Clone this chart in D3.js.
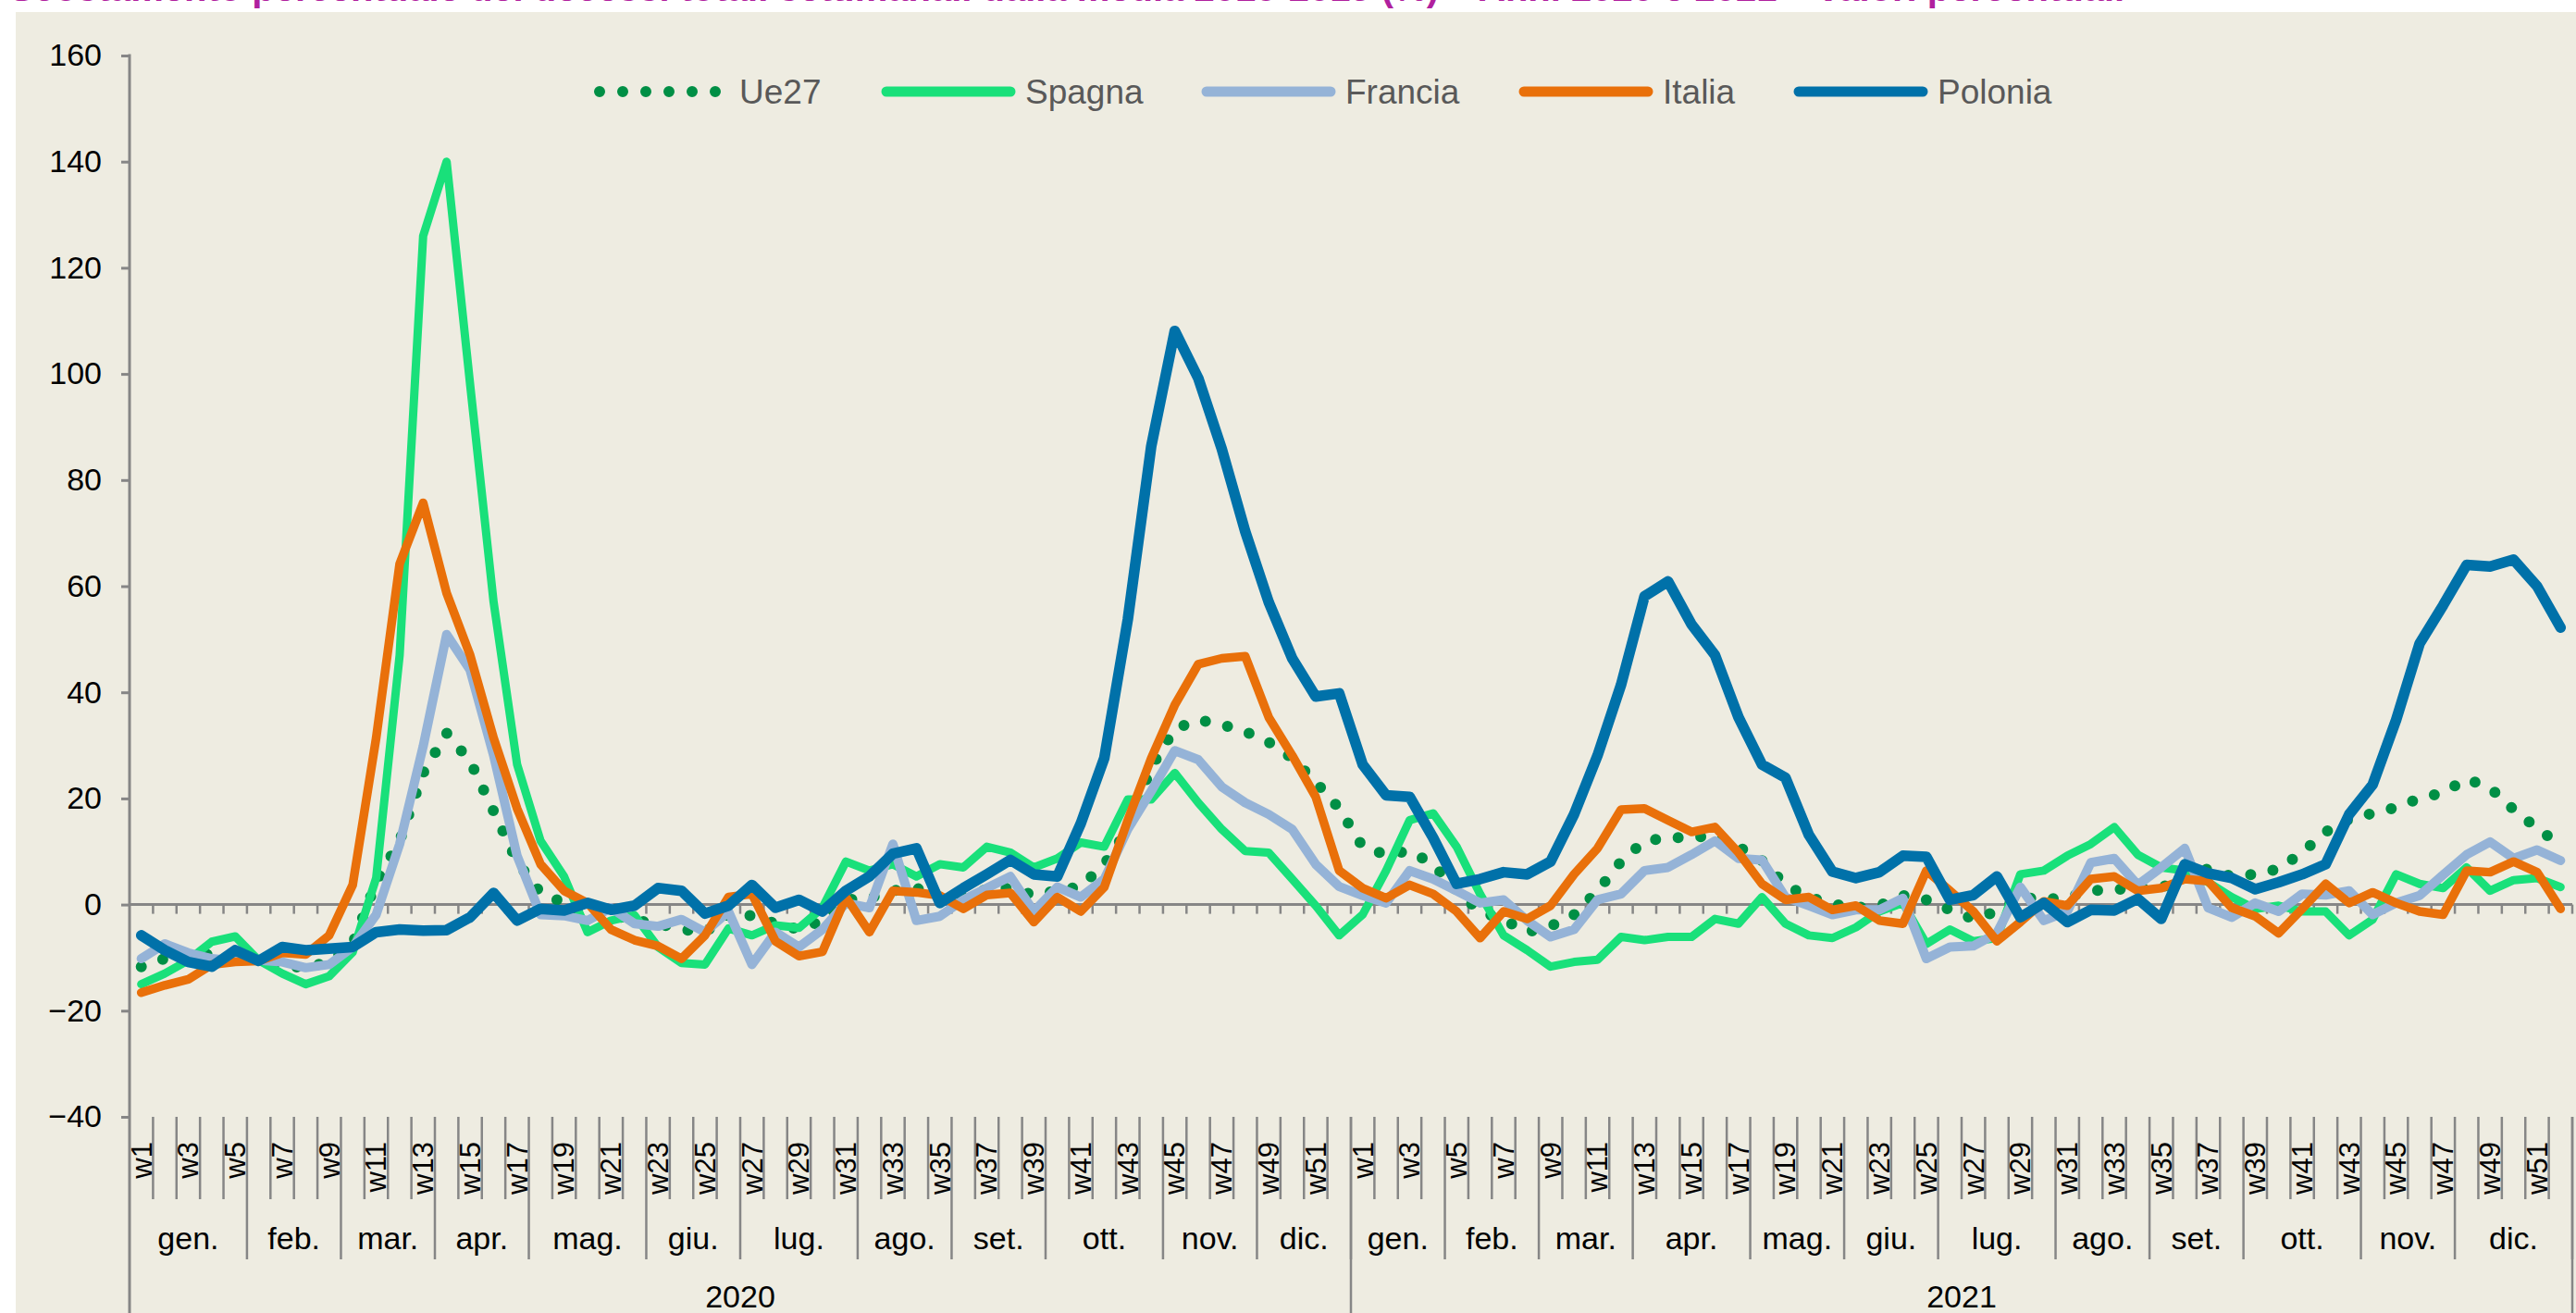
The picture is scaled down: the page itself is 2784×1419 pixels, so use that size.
<!DOCTYPE html>
<html>
<head>
<meta charset="utf-8">
<script src="https://cdn.jsdelivr.net/npm/d3@7"></script>
<style>
  html, body { margin: 0; padding: 0; background: #fff; }
  svg { display: block; font-family: "Liberation Sans", Arial, sans-serif; }
</style>
</head>
<body>
<div id="chart"></div>
<script>
const WIDTH = 2784;
const HEIGHT = 1419;

// categories
const years = ['2020', '2021'];
const monthNames = ['gen.', 'feb.', 'mar.', 'apr.', 'mag.', 'giu.', 'lug.', 'ago.', 'set.', 'ott.', 'nov.', 'dic.'];
const monthWeeks2020 = [5, 4, 4, 4, 5, 4, 5, 4, 4, 5, 4, 4];
const monthWeeks2021 = [4, 4, 4, 5, 4, 4, 5, 4, 4, 5, 4, 5];
const yTicks = [-40, -20, 0, 20, 40, 60, 80, 100, 120, 140, 160];

const seriesNames = ['Ue27', 'Spagna', 'Francia', 'Italia', 'Polonia'];

// values, % (w1..w52 2020, then w1..w52 2021)
const ue27 = [
  -11.7, -10.2, -9, -9.5, -10, -10.5, -11.5, -11.9, -10.8, -7.4, 4.2, 12, 24.8, 32.3, 27, 17.6, 8.1, 2.2, 0.3, -1.9,
  -1.9, -3, -3.6, -4.7, -5.2, -1.9, -2.1, -3.6, -4.7, -3, 0.9, 1.2, 2.6, 3.1, 1.4, 1.4, 2.9, 3.1, 1.8, 2.6,
  3.4, 7.6, 14.2, 25.9, 33.1, 34.8, 33.9, 32.6, 30.6, 27.6, 23.1, 18.1,
  10.9, 9.4, 10.1, 7.6, 2.6, -1.3, -2.8, -5.2, -4.1, -1.9, 2.6, 8.1, 12, 12.6, 12.6, 13.1, 10.9, 8.3, 3.7, 1.4,
  0.1, -0.6, -0.2, 1.7, 0.9, -1, -2.7, -1.3, 1.4, 0.9, 1.4, 2.6, 2.8, 3.1, 3.1, 5.7, 6.7, 5.3, 5.7, 6.7,
  9.8, 13.7, 16.1, 17.2, 18.3, 20, 21.1, 23.7, 22, 17.9, 14.4, 11.2
];
const spagna = [
  -15, -13, -10.5, -7, -6, -10.5, -13, -15, -13.5, -9, 5, 47, 126, 140, 98, 57, 26.4, 12, 5.3, -5.2,
  -3, -2, -8, -11, -11.3, -4.5, -5.8, -3.9, -4.4, -0.6, 8.1, 6.4, 7.6, 5.3, 7.6, 7, 10.9, 9.8, 7, 8.7,
  11.7, 10.9, 19.8, 19.8, 24.8, 19.2, 14.2, 10.1, 9.8, 4.8, -0.2, -5.8,
  -1.9, 6.4, 15.9, 17.2, 10.9, 2, -5.8, -8.6, -11.7, -10.8, -10.4, -6.1, -6.7, -6.1, -6.1, -2.7, -3.6, 1.4, -3.6, -5.8,
  -6.3, -4.3, -1.3, 0.3, -7.4, -4.7, -6.9, -6.3, 5.7, 6.4, 9.2, 11.4, 14.6, 9.4, 7, 6.4, 4.2, 1.4, -0.8, -0.2,
  -1.3, -1.3, -5.8, -2.8, 5.7, 3.9, 3.1, 7, 2.6, 4.6, 5, 3.3
];
const francia = [
  -10.2, -7.4, -9.1, -10.2, -10.6, -10.5, -10.8, -11.9, -11.3, -8, -1.9, 11.4, 29.8, 50.9, 44.2, 28.1, 9.2, -1.9, -2.1, -3,
  -0.6, -3.6, -4.1, -2.8, -5.2, -1.3, -11.3, -5.2, -8, -4.7, 0.3, -0.6, 11.4, -3, -2.2, 0.9, 3.1, 5.3, -1.3, 3.3,
  1.4, 4.8, 14.2, 21.4, 29, 27.3, 22.2, 19.2, 17, 14.2, 7.6, 3.4,
  1.7, 0.3, 6.4, 4.8, 2.6, 0.3, 0.9, -3, -6.1, -4.7, 0.9, 2, 6.4, 7, 9.4, 12, 8.7, 8.4, 1.4, -0.2,
  -1.9, -1, -1, 1.2, -10.2, -8, -7.8, -5.4, 3.3, -3, -1.3, 7.9, 8.7, 3.7, 7, 10.6, -0.6, -2.4, 0.3, -1.3,
  2, 1.8, 2.6, -1.9, 0.3, 1.7, 5.6, 9.4, 11.8, 8.7, 10.3, 8.3
];
const italia = [
  -16.6, -15.2, -14.1, -11.3, -10.8, -10.6, -9.1, -9.4, -5.8, 3.7, 31.4, 64.2, 75.7, 58.7, 47, 31.4, 18.1, 7.6, 2.6, 0.3,
  -4.7, -6.7, -7.8, -10.2, -5.8, 1.4, 2, -6.9, -9.7, -8.9, 1.4, -5.2, 2.6, 2.3, 1.7, -0.8, 1.8, 2.2, -3.3, 1.4,
  -1.3, 3.3, 15.9, 27.6, 37.6, 45.3, 46.4, 46.8, 35.3, 28.1, 20.3, 6.4,
  3.1, 1.2, 3.7, 2, -1.3, -6.3, -1.3, -2.7, -0.2, 5.7, 10.6, 17.9, 18.1, 15.9, 13.7, 14.6, 9.8, 3.9, 0.9, 1.4,
  -1, -0.2, -3, -3.6, 6.4, 2.6, -1.3, -6.9, -3.3, 0.6, -0.2, 4.8, 5.3, 2.6, 3.1, 4.8, 4.4, -0.6, -2.2, -5.4,
  -0.8, 3.9, 0.3, 2.3, 0.3, -1.3, -1.9, 6.4, 6.1, 8.1, 6.1, -0.8
];
const polonia = [
  -5.8, -8.6, -10.8, -11.7, -8.6, -10.6, -8, -8.6, -8.3, -8, -5.2, -4.7, -4.9, -4.8, -2.4, 2.2, -3, -0.8, -1.1, 0.3,
  -1, -0.2, 3.1, 2.6, -1.7, -0.2, 3.7, -0.6, 0.9, -1.3, 2.6, 5.3, 9.6, 10.6, 0.3, 3.1, 5.7, 8.4, 5.7, 5.3,
  15.3, 27.6, 53.7, 86.4, 108.1, 99.2, 85.9, 70.3, 57, 46.4, 39.2, 39.8,
  26.4, 20.6, 20.3, 12.6, 3.9, 4.8, 6.1, 5.7, 8.1, 17, 28.1, 41.4, 58.1, 60.9, 52.8, 47, 35.3, 26.4, 23.9, 13.1,
  6.2, 5, 6.1, 9.2, 9, 0.9, 1.8, 5.3, -2.4, 0.3, -3.3, -1, -1.1, 1.1, -2.7, 7.6, 5.9, 5, 2.9, 4.2,
  5.7, 7.6, 17, 22.6, 34.8, 49.2, 56.4, 64, 63.7, 65, 60, 52.2
];

const COLOR = {
  Ue27: '#008F45',
  Spagna: '#19E07A',
  Francia: '#95B3D7',
  Italia: '#E9700A',
  Polonia: '#0071A9',
};
const WIDTHS = {Ue27: 12, Spagna: 9, Francia: 10, Italia: 9.5, Polonia: 11.5};
const AXIS = '#868686';

const seriesValues = {Ue27: ue27, Spagna: spagna, Francia: francia, Italia: italia, Polonia: polonia};
const monthWeeks = {'2020': monthWeeks2020, '2021': monthWeeks2021};

// category keys, year-week
const categories = [];
years.forEach(yr => {
  const n = d3.sum(monthWeeks[yr]);
  for (let w = 1; w <= n; w++) categories.push({key: yr + '-w' + w, year: yr, week: w});
});

const x = d3.scaleBand().domain(categories.map(c => c.key)).range([140, 2780]);
const y = d3.scaleLinear().domain([-40, 160]).range([1207, 60]);
const cx = i => x(categories[i].key) + x.bandwidth() / 2;

const svg = d3.select('#chart').append('svg')
  .attr('width', WIDTH)
  .attr('height', HEIGHT);

svg.append('rect')
  .attr('x', 17).attr('y', 13)
  .attr('width', WIDTH - 17).attr('height', HEIGHT - 13)
  .attr('fill', '#EEECE1');

// title, mostly cut off at the top of the picture
svg.append('text')
  .attr('x', 10).attr('y', 1)
  .attr('font-size', 40)
  .attr('font-weight', 'bold')
  .attr('fill', '#B0209E')
  .text('Scostamento percentuale dei decessi totali settimanali dalla media 2015-2019 (%) – Anni 2020 e 2021 – valori percentuali');

// y axis
const yAxis = svg.append('g')
  .attr('transform', 'translate(140,0)')
  .call(d3.axisLeft(y).tickValues(yTicks).tickSize(9).tickSizeOuter(0).tickPadding(21));
yAxis.select('.domain').remove();
yAxis.selectAll('.tick line').attr('stroke', AXIS).attr('stroke-width', 3);
yAxis.selectAll('.tick text')
  .attr('font-size', 34)
  .attr('fill', '#000')
  .attr('font-family', '"Liberation Sans", Arial, sans-serif');

svg.append('line')
  .attr('x1', 140).attr('x2', 140)
  .attr('y1', y(160) - 1.5).attr('y2', HEIGHT)
  .attr('stroke', AXIS).attr('stroke-width', 3);

// zero line with ticks at category boundaries
svg.append('line')
  .attr('x1', 140).attr('x2', 2780)
  .attr('y1', y(0)).attr('y2', y(0))
  .attr('stroke', AXIS).attr('stroke-width', 3);

const bounds = categories.map(c => x(c.key)).concat([x.range()[1]]);
svg.append('g').selectAll('line')
  .data(bounds.slice(1))
  .enter().append('line')
  .attr('x1', d => d).attr('x2', d => d)
  .attr('y1', y(0)).attr('y2', y(0) + 10)
  .attr('stroke', AXIS).attr('stroke-width', 2.5);

// multi level category axis below the plot
const catTop = y(-40);
const weekBottom = 1296;
const monthBottom = 1361;

const catAxis = svg.append('g');
catAxis.selectAll('line.week')
  .data(bounds.slice(1))
  .enter().append('line')
  .attr('class', 'week')
  .attr('x1', d => d).attr('x2', d => d)
  .attr('y1', catTop).attr('y2', weekBottom)
  .attr('stroke', AXIS).attr('stroke-width', 2.5);

catAxis.selectAll('text.week')
  .data(categories.filter(c => c.week % 2 === 1))
  .enter().append('text')
  .attr('class', 'week')
  .attr('transform', c => `translate(${x(c.key) + x.bandwidth() / 2},${catTop + 27}) rotate(-90)`)
  .attr('dy', '0.35em')
  .attr('text-anchor', 'end')
  .attr('font-size', 31)
  .attr('fill', '#000')
  .text(c => 'w' + c.week);

const monthGroups = [];
years.forEach(yr => {
  let w = 1;
  monthWeeks[yr].forEach((n, m) => {
    const first = categories.find(c => c.year === yr && c.week === w);
    const last = categories.find(c => c.year === yr && c.week === w + n - 1);
    monthGroups.push({name: monthNames[m], x0: x(first.key), x1: x(last.key) + x.bandwidth()});
    w += n;
  });
});

catAxis.selectAll('line.month')
  .data(monthGroups)
  .enter().append('line')
  .attr('class', 'month')
  .attr('x1', d => d.x1).attr('x2', d => d.x1)
  .attr('y1', weekBottom).attr('y2', monthBottom)
  .attr('stroke', AXIS).attr('stroke-width', 2.5);

catAxis.selectAll('text.month')
  .data(monthGroups)
  .enter().append('text')
  .attr('class', 'month')
  .attr('x', d => (d.x0 + d.x1) / 2)
  .attr('y', 1350)
  .attr('text-anchor', 'middle')
  .attr('font-size', 34)
  .attr('fill', '#000')
  .text(d => d.name);

const yearGroups = years.map(yr => {
  const cs = categories.filter(c => c.year === yr);
  return {name: yr, x0: x(cs[0].key), x1: x(cs[cs.length - 1].key) + x.bandwidth()};
});

catAxis.selectAll('line.year')
  .data(yearGroups)
  .enter().append('line')
  .attr('class', 'year')
  .attr('x1', d => d.x1).attr('x2', d => d.x1)
  .attr('y1', catTop).attr('y2', HEIGHT)
  .attr('stroke', AXIS).attr('stroke-width', 2.5);

catAxis.selectAll('text.year')
  .data(yearGroups)
  .enter().append('text')
  .attr('class', 'year')
  .attr('x', d => (d.x0 + d.x1) / 2)
  .attr('y', 1413)
  .attr('text-anchor', 'middle')
  .attr('font-size', 34)
  .attr('fill', '#000')
  .text(d => d.name);

// series
const line = d3.line()
  .x((d, i) => cx(i))
  .y(d => y(d));

const g = svg.append('g').attr('class', 'series');
seriesNames.forEach(name => {
  const p = g.append('path')
    .datum(seriesValues[name])
    .attr('d', line)
    .attr('fill', 'none')
    .attr('stroke', COLOR[name])
    .attr('stroke-width', WIDTHS[name])
    .attr('stroke-linejoin', 'round')
    .attr('stroke-linecap', 'round');
  if (name === 'Ue27') {
    p.attr('stroke-dasharray', '0,24.5');
  }
});

// legend
const legendX = [646, 954, 1300, 1643, 1940];
const legendY = 99;
const legend = svg.append('g').attr('class', 'legend');
seriesNames.forEach((name, k) => {
  const x0 = legendX[k];
  const item = legend.append('g');
  if (name === 'Ue27') {
    item.append('line')
      .attr('x1', x0 + 2).attr('x2', x0 + 128)
      .attr('y1', legendY).attr('y2', legendY)
      .attr('stroke', COLOR[name])
      .attr('stroke-width', WIDTHS[name])
      .attr('stroke-linecap', 'round')
      .attr('stroke-dasharray', '0,25');
  } else {
    item.append('line')
      .attr('x1', x0 + 4).attr('x2', x0 + 138)
      .attr('y1', legendY).attr('y2', legendY)
      .attr('stroke', COLOR[name])
      .attr('stroke-width', 11)
      .attr('stroke-linecap', 'round');
  }
  item.append('text')
    .attr('x', name === 'Ue27' ? x0 + 153 : x0 + 154)
    .attr('y', legendY)
    .attr('dy', '0.35em')
    .attr('font-size', 37)
    .attr('fill', '#595959')
    .text(name);
});
</script>
</body>
</html>
